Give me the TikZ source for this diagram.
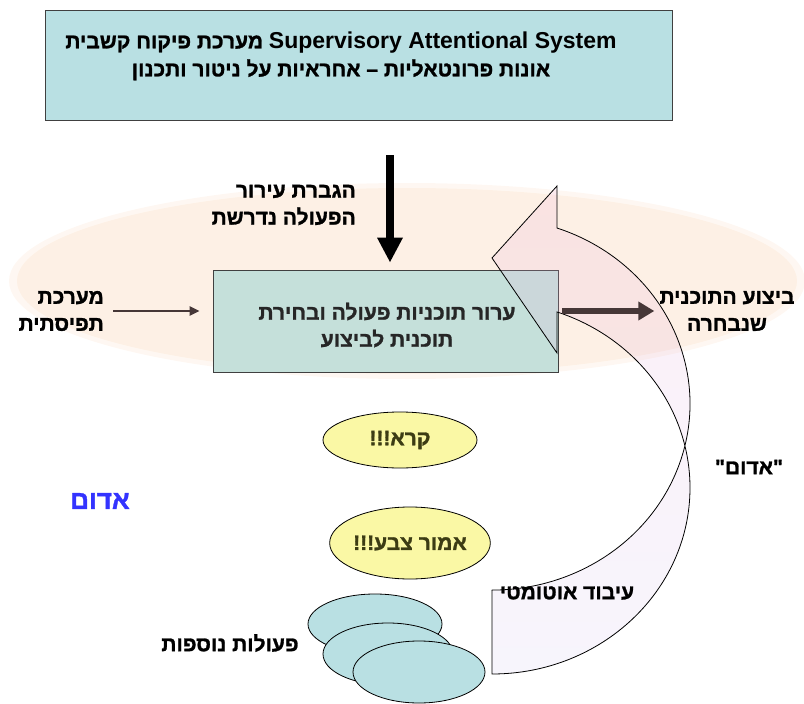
\documentclass[tikz,border=0pt]{standalone}
\usepackage{fontspec}
\setmainfont{Liberation Sans}
\newfontfamily\hebfont[Script=Hebrew, FakeBold=1.3]{Liberation Sans Bold}
\newfontfamily\latfont{Liberation Sans Bold}
\TeXXeTstate=1
\usetikzlibrary{shapes.geometric, arrows.meta}

\newcommand{\hebline}[1]{\beginR #1\endR}

\definecolor{boxcyan}{RGB}{185,224,227}
\definecolor{boxgreen}{RGB}{197,224,218}
\definecolor{halo}{RGB}{253,240,229}
\definecolor{looppink}{RGB}{238,170,215}
\definecolor{looplilac}{RGB}{212,198,238}
\definecolor{paleyellow}{RGB}{250,248,165}
\definecolor{olivetext}{RGB}{60,60,20}
\definecolor{redword}{RGB}{51,51,255}
\definecolor{arrowbrown}{RGB}{70,55,55}

\tikzset{
  heb/.style={font=\hebfont\fontsize{21}{27}\selectfont, inner sep=0pt},
  planbox/.style={draw=black!75, line width=0.8pt, rectangle},
  bubble/.style={draw=black, line width=0.8pt, ellipse, inner sep=0pt},
}

\begin{document}
\begin{tikzpicture}[x=1pt, y=1pt]
\useasboundingbox (0,0) rectangle (804,-704);

% background halo round the middle stage
\fill[halo, opacity=0.5] (407,-281) ellipse[x radius=398pt, y radius=98pt];
\fill[halo] (407,-281) ellipse[x radius=390pt, y radius=93pt];

% supervisory system
\node[planbox, fill=boxcyan, minimum width=627pt, minimum height=110pt] (sasbox) at (358.5,-65) {};
\node[heb, align=center, font=\hebfont\fontsize{21}{28}\selectfont] (sastext) at (341,-56)
  {\hebline{{\latfont\fontsize{23}{28}\selectfont\beginL Supervisory Attentional System\endL} מערכת פיקוח קשבית}\\
   \hebline{אונות פרונטאליות – אחראיות על ניטור ותכנון}};

% action plans
\node[planbox, fill=boxgreen, minimum width=345pt, minimum height=102pt] (midbox) at (385.5,-321) {};
\node[heb, align=center, text=black!85] (midtext) at (387,-325)
  {\hebline{ערור תוכניות פעולה ובחירת}\\ \hebline{תוכנית לביצוע}};

% the loop of automatic processing
\draw[line width=0.8pt, top color=looppink, bottom color=looplilac, fill opacity=0.18]
  (492,-590) -- (492,-674)
  arc[start angle=-90, end angle=70.83, x radius=198pt, y radius=186.2pt]
  -- (557,-353) -- (492,-258) -- (557,-186) -- (557,-228)
  arc[start angle=70.83, end angle=-90, x radius=198pt, y radius=186.2pt] -- cycle;

% labels
\node[heb, align=right, anchor=east] (arousal) at (356,-205)
  {\hebline{הגברת עירור}\\ \hebline{הפעולה נדרשת}};
\node[heb, align=right, anchor=east] (percept) at (104,-311)
  {\hebline{מערכת}\\ \hebline{תפיסתית}};
\node[heb, align=center] (exec) at (727,-311)
  {\hebline{ביצוע התוכנית}\\ \hebline{שנבחרה}};
\node[heb] (word) at (749,-467) {\hebline{"אדום"}};
\node[heb] (auto) at (567,-593) {\hebline{עיבוד אוטומטי}};
\node[heb] (more) at (230,-643) {\hebline{פעולות נוספות}};
\node[heb, text=redword, font=\hebfont\fontsize{26}{30}\selectfont] (red) at (100,-501) {\hebline{אדום}};

% responses
\node[bubble, fill=paleyellow, minimum width=154pt, minimum height=56pt, heb, text=olivetext] (read) at (400,-440) {\hebline{קרא!!!}};
\node[bubble, fill=paleyellow, minimum width=147pt, minimum height=72pt, heb, text=olivetext] (color) at (410,-543) {\hebline{אמור צבע!!!}};
\node[bubble, fill=boxcyan, minimum width=134pt, minimum height=60pt] (other1) at (375,-624) {};
\node[bubble, fill=boxcyan, minimum width=130pt, minimum height=62pt] (other2) at (388,-654) {};
\node[bubble, fill=boxcyan, minimum width=132pt, minimum height=62pt] (other3) at (419,-672) {};

% arrows
\coordinate (arousaltop) at (390,-155);
\draw[line width=8.5pt, -{Triangle[length=25pt, width=24pt]}, shorten >=7pt]
  (arousaltop) -- (arousaltop |- midbox.north);
\draw[line width=2.5pt, arrowbrown, -{Triangle[length=10pt, width=9pt]}, shorten <=9pt, shorten >=13pt]
  (percept.east) -- (percept.east -| midbox.west);
\draw[line width=6.5pt, arrowbrown, -{Triangle[length=16pt, width=18pt]}, shorten <=4pt, shorten >=5pt]
  (midbox.east |- exec.west) -- (exec.west);
\end{tikzpicture}
\end{document}
